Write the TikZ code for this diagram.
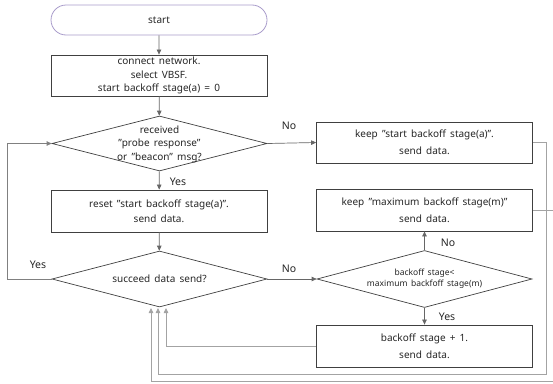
\documentclass[tikz,border=0pt]{standalone}
\usepackage{fontspec}
\setmainfont[WordSpace={1.6,1,1}]{Noto Sans}
\usetikzlibrary{arrows.meta,shapes.geometric,shapes.misc}

\definecolor{ink}{HTML}{262626}
\definecolor{boxline}{HTML}{404040}
\definecolor{termline}{HTML}{A99CCB}
\definecolor{flowgray}{HTML}{666666}
\definecolor{loopgray}{HTML}{A3A3A3}

\tikzset{
  txt/.style={text=ink, font=\fontsize{10}{13.5}\selectfont, align=center, inner sep=0pt},
  terminal/.style={rounded rectangle, draw=termline, line width=0.8pt, fill=white,
    minimum width=216pt, minimum height=30pt, txt},
  procbox/.style={rectangle, draw=boxline, line width=0.8pt, fill=white,
    minimum width=216pt, minimum height=41pt, txt},
  widebox/.style={procbox, font=\fontsize{10}{17}\selectfont},
  decision/.style={diamond, draw=boxline, line width=0.7pt, fill=white,
    minimum width=215pt, minimum height=56pt, inner sep=0pt},
  flow/.style={draw=flowgray, line width=0.7pt, -{Triangle[length=5pt,width=4.5pt]}},
  backflow/.style={draw=loopgray, line width=0.8pt, -{Triangle[length=5pt,width=4.5pt]}, color=loopgray},
  lbl/.style={text=ink, font=\fontsize{10.5}{12}\selectfont, inner sep=0pt}
}

\begin{document}
\begin{tikzpicture}[x=1pt,y=-1pt]
\useasboundingbox (0,0) rectangle (553,383);
\clip (0,0) rectangle (553,383);

% left column
\node[terminal] (start) at (159,20) {start};
\node[procbox] (init) at (159,75.5) {connect network.\\select VBSF.\\start backoff stage(a) = 0};
\node[decision, minimum height=55pt] (recv) at (159.5,143.5) {};
\node[txt] (recvt) at (159.5,144) {received\\"probe response"\\or "beacon" msg?};
\node[procbox, minimum height=42pt, font=\fontsize{10}{15}\selectfont] (reset) at (159,211) {reset "start backoff stage(a)".\\send data.};
\node[decision] (succ) at (159.5,279) {};
\node[txt] (succt) at (159.5,279) {succeed data send?};

% right column
\node[widebox] (keepa) at (424.5,142.5) {keep "start backoff stage(a)".\\send data.};
\node[widebox, minimum height=42pt] (keepm) at (424.5,210) {keep "maximum backoff stage(m)"\\send data.};
\node[decision, minimum height=57pt] (maxq) at (424.5,279) {};
\node[txt, font=\fontsize{8.5}{11}\selectfont] (maxqt) at (424.5,279) {backoff stage<\\maximum backfoff stage(m)};
\node[widebox, minimum height=42pt] (incr) at (424.5,346) {backoff stage + 1.\\send data.};

% free ends and bends
\coordinate (lbend) at (7,0);
\coordinate (ra) at (546,0);
\coordinate (rm) at (558,0);
\coordinate (ta) at (166,308);
\coordinate (tb) at (158,308);
\coordinate (tc) at (151,308);

% main flow
\draw[flow] (start) -- (init);
\draw[flow] (init) -- (recv);
\draw[flow] (recv) -- (reset);
\draw[flow] (reset) -- (succ);
\draw[flow] (recv.east) -- (keepa.west);
\draw[flow] (succ.east) -- (maxq.west);
\draw[flow] (maxq) -- (keepm);
\draw[flow] (maxq) -- (incr);
\draw[flow, draw=gray] (succ.west) -- (lbend |- succ.west) -- (lbend |- recv.west) -- (recv.west);

% returns to the send check
\draw[backflow] (incr.west) -- (ta |- incr.west) -- (ta);
\draw[backflow] (keepa.east) -- (ra |- keepa.east) -- (546,374) -- (158,374) -- (tb);
\draw[backflow] (keepm.east) -- (rm |- keepm.east) -- (558,381) -- (151,381) -- (tc);

% branch labels
\node[lbl] (y1) at (178,182) {Yes};
\node[lbl] (n1) at (289,126) {No};
\node[lbl] (y2) at (38,265) {Yes};
\node[lbl] (n2) at (289,269) {No};
\node[lbl] (n3) at (448,243) {No};
\node[lbl] (y3) at (447,317) {Yes};
\end{tikzpicture}
\end{document}
